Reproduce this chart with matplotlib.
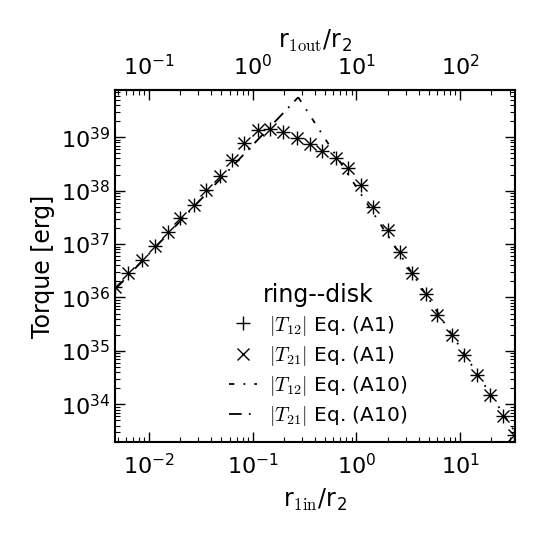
#!/usr/bin/env python3

import numpy as np
import matplotlib as mpl
mpl.use('Agg')
from matplotlib import pyplot as plt

# ratio r1in/r2 of the sampled rings
r_in = [0.0047, 0.0063, 0.0085, 0.0115, 0.0151, 0.020, 0.027, 0.0355, 0.048,
        0.063, 0.083, 0.112, 0.148, 0.195, 0.269, 0.355, 0.468, 0.63, 0.83,
        1.12, 1.45, 2.0, 2.63, 3.47, 4.68, 6.03, 8.3, 11.0, 14.5, 19.5, 25.7,
        33.0]
# torque, log10 [erg]
log_T12 = [36.19, 36.45, 36.70, 36.96, 37.22, 37.48, 37.73, 38.01, 38.27,
           38.57, 38.89, 39.13, 39.15, 39.09, 38.98, 38.87, 38.74, 38.61,
           38.42, 38.10, 37.69, 37.26, 36.85, 36.45, 36.06, 35.67, 35.29,
           34.92, 34.54, 34.17, 33.79, 33.42]
log_T21 = log_T12

# analytic approximations, Eq. (A10)
a10_T21_x = [0.0047, 0.275]
a10_T21_y = [1.41e36, 5.6e39]
a10_T12_x = [0.275, 34.0]
a10_T12_y = [5.6e39, 3.0e33]

top_ticks = [0.1, 1, 10, 100]


def main():
    mpl.rc('font', family='DejaVu Sans', size=16)
    mpl.rc('mathtext', fontset='cm')
    mpl.rc('axes', unicode_minus=False, linewidth=1.5)

    fig = plt.figure(figsize=(5.4, 5.4), dpi=100)
    ax = fig.add_axes([0.213, 0.181, 0.741, 0.652])

    T12 = 10 ** np.array(log_T12)
    T21 = 10 ** np.array(log_T21)

    ax.plot(r_in, T12, ls='none', marker='+', ms=10.5, mew=1.0, color='k',
            label=r'$|T_{12}|$ Eq. (A1)')
    ax.plot(r_in, T21, ls='none', marker='x', ms=8, mew=1.0, color='k',
            label=r'$|T_{21}|$ Eq. (A1)')
    ax.plot(a10_T12_x, a10_T12_y, color='k', lw=1.3, dashes=(3, 5, 1, 5),
            label=r'$|T_{12}|$ Eq. (A10)')
    ax.plot(a10_T21_x, a10_T21_y, color='k', lw=1.3, dashes=(7, 4, 1, 4),
            label=r'$|T_{21}|$ Eq. (A10)')

    ax.set_xscale('log')
    ax.set_yscale('log')
    ax.set_xlim(0.0047, 34)
    ax.set_ylim(1.95e33, 7.6e39)
    ax.set_xlabel(r'r$_{\rm 1in}$/r$_{\mathdefault{2}}$', fontsize=17, labelpad=6)
    ax.set_ylabel('Torque [erg]', fontsize=17, labelpad=4)

    ax.tick_params(which='both', direction='in', top=False, right=True)
    ax.tick_params(which='major', length=7, width=1)
    ax.tick_params(which='minor', length=3.5, width=0.8)
    ax.tick_params(axis='x', pad=8)
    ax.yaxis.set_major_locator(mpl.ticker.LogLocator(base=10, numticks=15))
    ax.yaxis.set_minor_locator(mpl.ticker.LogLocator(base=10, subs=np.arange(2, 10), numticks=15))

    top = ax.secondary_xaxis('top', functions=(lambda x: x * 10, lambda x: x / 10))
    top.set_xticks(top_ticks)
    top.set_xlabel(r'r$_{\rm 1out}$/r$_{\mathdefault{2}}$', fontsize=17, labelpad=4)
    top.tick_params(which='both', direction='in')
    top.tick_params(which='major', length=7, width=1, pad=8)
    top.tick_params(which='minor', length=3.5, width=0.8)

    legend = ax.legend(loc='lower left', bbox_to_anchor=(0.24, -0.01), frameon=False,
                       title='ring--disk', fontsize=14.5, handlelength=1.4,
                       handletextpad=0.6, labelspacing=0.3)
    legend.get_title().set_fontsize(17)

    plt.savefig('out.png', dpi=100)


if __name__ == '__main__':
    main()
